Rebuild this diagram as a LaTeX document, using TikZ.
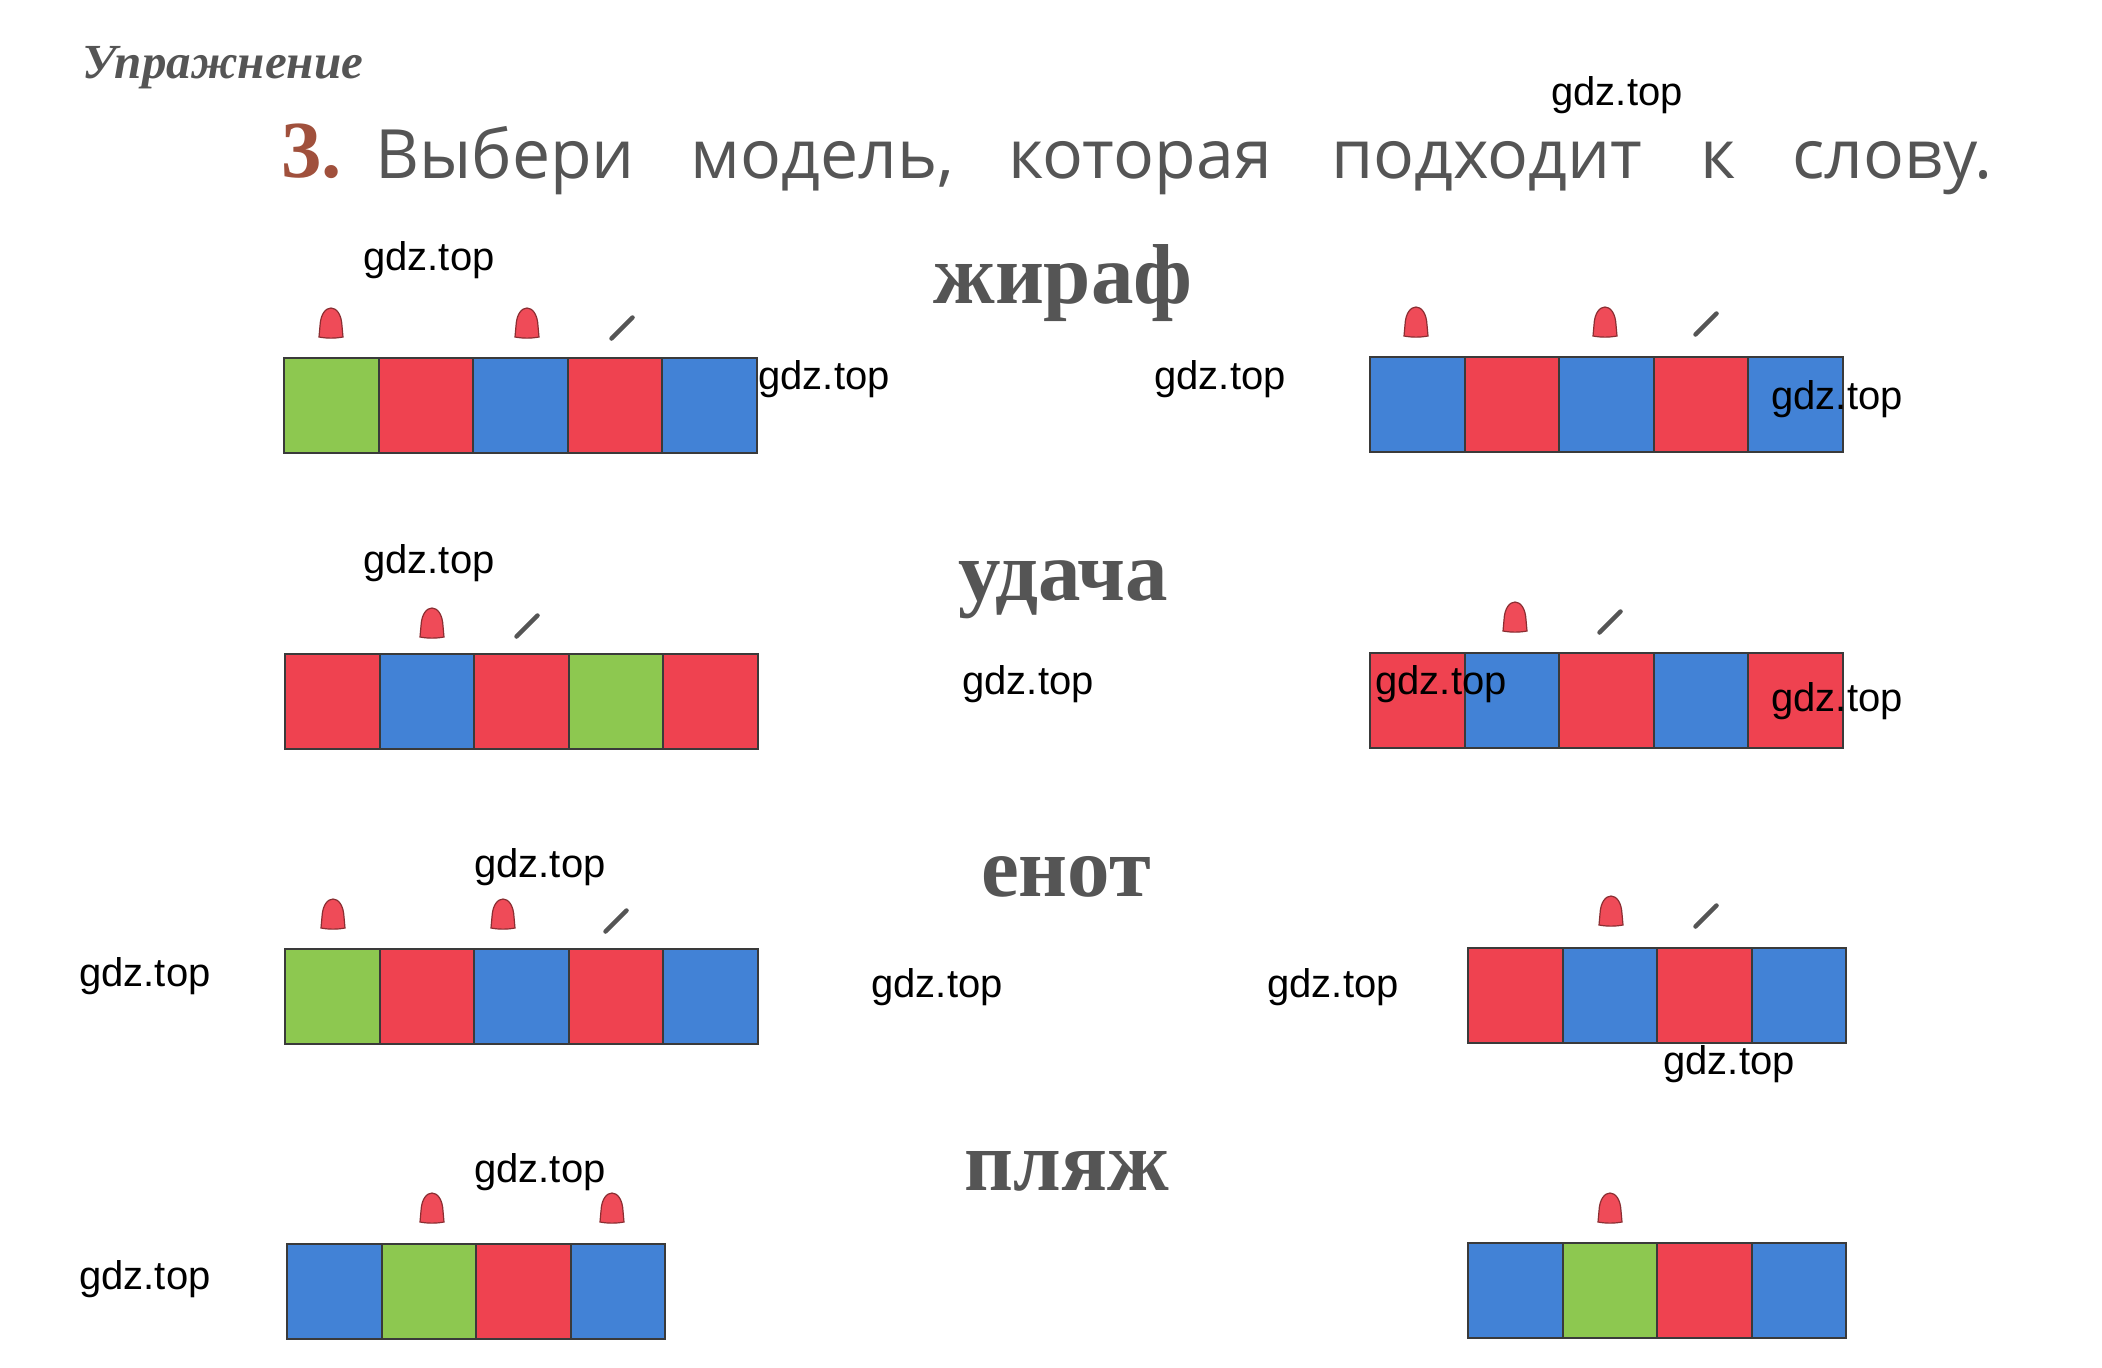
\documentclass[tikz,border=0pt]{standalone}
\usepackage{fontspec}
\setmainfont{Liberation Serif}
\newfontfamily\headsans{Open Sans}
\newfontfamily\wmfont{Liberation Sans}
\definecolor{cg}{HTML}{8DC850}
\definecolor{cr}{HTML}{EF4250}
\definecolor{cb}{HTML}{4282D6}
\definecolor{cellborder}{HTML}{3A3A3A}
\definecolor{hatred}{HTML}{EF4B58}
\definecolor{hatedge}{HTML}{8A2E32}
\definecolor{slashgray}{HTML}{555555}
\definecolor{inkgray}{HTML}{555555}
\definecolor{numbrown}{HTML}{A0503C}
\tikzset{
  cell/.style={draw=cellborder, line width=2pt, minimum width=94.6pt, minimum height=95pt, inner sep=0pt, outer sep=0pt, anchor=north west},
  wm/.style={font=\wmfont\fontsize{40}{44}\selectfont, text=black, inner sep=0pt},
  headword/.style={font=\headsans\fontsize{68}{72}\selectfont, text=inkgray, inner sep=0pt, anchor=base west},
  bigword/.style={font=\bfseries\fontsize{85}{90}\selectfont, text=inkgray, inner sep=0pt, anchor=base},
  vowelhat/.pic={\draw[fill=hatred, draw=hatedge, line width=1.2pt] (-12,0) -- (-11,-11) .. controls (-10,-35) and (10,-35) .. (11,-11) -- (12,0) .. controls (4,1.5) and (-4,1.5) .. cycle;},
  stressmark/.pic={\draw[line width=4.5pt, line cap=round, draw=slashgray] (-10.5,10.5) -- (10.5,-10.5);}
}
\newcommand\mybar[4]{%
  \foreach \c [count=\i] in {#4} {
    \node[cell, fill=\c] (#1-\i) at ({#2+(\i-1)*94.6}, #3) {};
  }}
\begin{document}
\begin{tikzpicture}[x=1pt,y=-1pt]
\useasboundingbox[fill=white] (0,0) rectangle (2102,1368);

% header
\node[font=\bfseries\itshape\fontsize{49}{52}\selectfont, text=inkgray, inner sep=0pt, anchor=base west] (ex) at (82,78) {Упражнение};
\node[font=\bfseries\fontsize{81}{85}\selectfont, text=numbrown, inner sep=0pt, anchor=base west] (num) at (281,177) {3.};
\node[headword] (h1) at (375,178) {Выбери};
\node[headword] (h2) at (690,178) {модель,};
\node[headword] (h3) at (1008,178) {которая};
\node[headword] (h4) at (1331,178) {подходит};
\node[headword] (h5) at (1700,178) {к};
\node[headword] (h6) at (1792,178) {слову.};

% words
\node[bigword] (w1) at (1063,303) {жираф};
\node[bigword] (w2) at (1063,600) {удача};
\node[bigword] (w3) at (1066,896) {енот};
\node[bigword] (w4) at (1067,1190) {пляж};

% row 1
\mybar{b1l}{284}{358}{cg,cr,cb,cr,cb}
\pic at (331,337) {vowelhat};
\pic at (527,337) {vowelhat};
\pic at (622,328) {stressmark};
\mybar{b1r}{1370}{357}{cb,cr,cb,cr,cb}
\pic at (1416,336) {vowelhat};
\pic at (1605,336) {vowelhat};
\pic at (1706,324) {stressmark};

% row 2
\mybar{b2l}{285}{654}{cr,cb,cr,cg,cr}
\pic at (432,637) {vowelhat};
\pic at (527,626) {stressmark};
\mybar{b2r}{1370}{653}{cr,cb,cr,cb,cr}
\pic at (1515,631) {vowelhat};
\pic at (1610,622) {stressmark};

% row 3
\mybar{b3l}{285}{949}{cg,cr,cb,cr,cb}
\pic at (333,928) {vowelhat};
\pic at (503,928) {vowelhat};
\pic at (616,921) {stressmark};
\mybar{b3r}{1468}{948}{cr,cb,cr,cb}
\pic at (1611,925) {vowelhat};
\pic at (1706,916) {stressmark};

% row 4
\mybar{b4l}{287}{1244}{cb,cg,cr,cb}
\pic at (432,1222) {vowelhat};
\pic at (612,1222) {vowelhat};
\mybar{b4r}{1468}{1243}{cb,cg,cr,cb}
\pic at (1610,1222) {vowelhat};

% watermarks
\node[wm] (g1) at (1617,95) {gdz.top};
\node[wm] (g2) at (429,260) {gdz.top};
\node[wm] (g3) at (824,379) {gdz.top};
\node[wm] (g4) at (1220,379) {gdz.top};
\node[wm] (g5) at (1837,399) {gdz.top};
\node[wm] (g6) at (429,563) {gdz.top};
\node[wm] (g7) at (1028,684) {gdz.top};
\node[wm] (g8) at (1441,684) {gdz.top};
\node[wm] (g9) at (1837,701) {gdz.top};
\node[wm] (g10) at (540,867) {gdz.top};
\node[wm] (g11) at (145,976) {gdz.top};
\node[wm] (g12) at (937,987) {gdz.top};
\node[wm] (g13) at (1333,987) {gdz.top};
\node[wm] (g14) at (1729,1064) {gdz.top};
\node[wm] (g15) at (540,1172) {gdz.top};
\node[wm] (g16) at (145,1279) {gdz.top};
\end{tikzpicture}
\end{document}
